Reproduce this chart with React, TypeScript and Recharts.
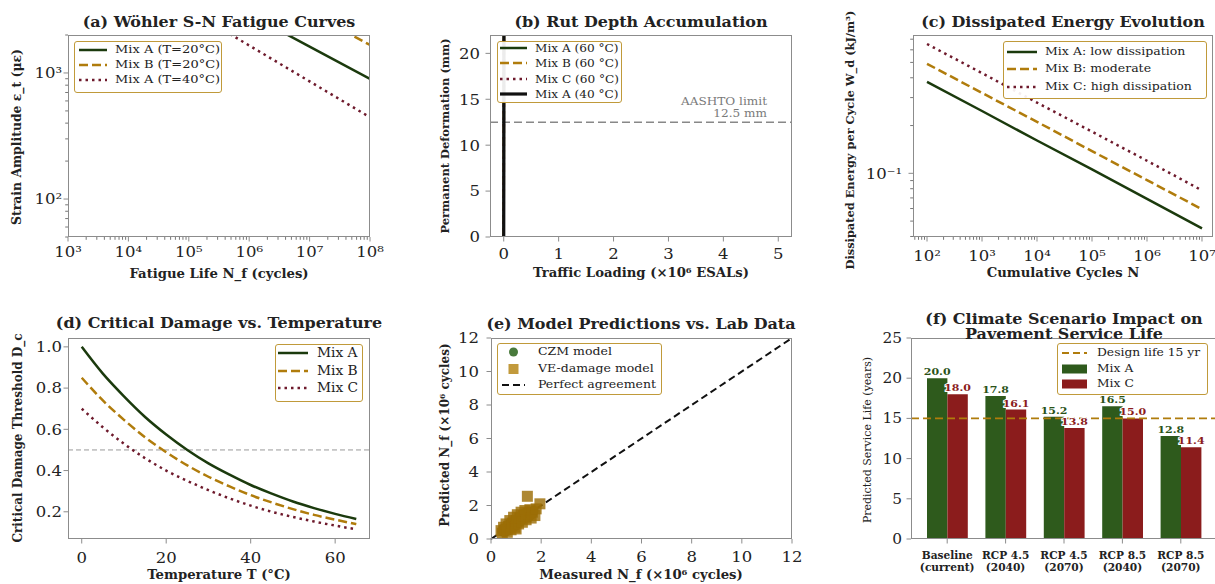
import React from "react";
import {
  LineChart,
  Line,
  XAxis,
  YAxis,
  ReferenceLine,
  ScatterChart,
  Scatter,
  BarChart,
  Bar,
  LabelList,
} from "recharts";

const FONT = "'DejaVu Serif', serif";
const INK = "#222";
const SPINE = "#8c8c8c";
const GREEN = "#1b3a0d";
const GOLD = "#b07c0c";
const MAROON = "#6e1a2c";
const BAR_GREEN = "#2e5a1c";
const BAR_RED = "#8b1c1c";
const FRAME_GOLD = "#c09a3a";
// the reference is a little wider than tall, so horizontal text gets stretched
const SX = 1.1;

// (a) Wöhler S-N curves
const snCycles = [1e3, 1e4, 1e5, 1e6, 1e7, 1e8];
const snMixA20 = [17200, 9520, 5270, 2920, 1617, 896];
const snMixB20 = [32000, 17700, 9820, 5440, 3010, 1667];
const snMixA40 = [11820, 6135, 3184, 1652, 857, 445];

// (b) rut depth (all curves shoot up right at zero)
const rutEsals = [0, 0.001, 0.002, 0.003, 0.004];
const rutMixA60 = [0, 6, 12, 19, 26];
const rutMixB60 = [0, 5, 11, 17, 24];
const rutMixC60 = [0, 7, 14, 21, 29];
const rutMixA40 = [0, 4, 9, 15, 23];
const aashtoLimit = 12.5;

// (c) dissipated energy
const deCycles = [1e2, 1e3, 1e4, 1e5, 1e6, 1e7];
const deMixA = [0.377, 0.247, 0.161, 0.106, 0.069, 0.045];
const deMixB = [0.49, 0.321, 0.211, 0.138, 0.0906, 0.0594];
const deMixC = [0.653, 0.428, 0.279, 0.183, 0.12, 0.078];

// (d) critical damage
const dcTemps = [0, 5, 10, 15, 20, 25, 30, 35, 40, 45, 50, 55, 60, 65];
const dcMixA = [1.0, 0.87, 0.76, 0.66, 0.575, 0.5, 0.435, 0.38, 0.33, 0.288, 0.25, 0.218, 0.19, 0.165];
const dcMixB = [0.85, 0.74, 0.646, 0.561, 0.489, 0.425, 0.37, 0.323, 0.281, 0.245, 0.213, 0.185, 0.162, 0.14];
const dcMixC = [0.7, 0.61, 0.53, 0.46, 0.4, 0.35, 0.305, 0.265, 0.23, 0.2, 0.175, 0.153, 0.133, 0.115];
const dcThreshold = 0.5;

// (e) model vs lab
const czmMeasured = [0.45, 0.5, 0.6, 0.65, 0.7, 0.75, 0.85, 0.9, 0.95, 1.0, 1.05, 1.1, 1.2, 1.25, 1.3, 1.4, 1.45, 1.5, 1.55, 1.65, 1.7, 0.55, 0.8, 1.15, 1.35];
const czmPredicted = [0.45, 0.6, 0.7, 0.5, 0.85, 0.65, 0.8, 1.05, 0.75, 1.15, 0.95, 1.3, 1.1, 1.45, 1.2, 1.35, 1.6, 1.3, 1.55, 1.5, 1.7, 0.4, 0.95, 1.0, 1.55];
const veMeasured = [0.4, 0.45, 0.5, 0.55, 0.6, 0.65, 0.7, 0.75, 0.8, 0.85, 0.9, 0.95, 1.0, 1.0, 1.05, 1.1, 1.15, 1.2, 1.25, 1.3, 1.35, 1.4, 1.45, 1.5, 1.55, 1.6, 1.65, 1.75, 1.8, 1.95];
const vePredicted = [0.5, 0.35, 0.7, 0.55, 0.9, 0.4, 0.75, 1.1, 0.55, 0.95, 1.3, 0.7, 1.1, 0.6, 1.45, 0.9, 1.25, 1.6, 1.0, 1.4, 1.7, 1.15, 2.55, 1.5, 1.75, 1.25, 1.6, 1.4, 1.8, 2.1];

// (f) climate scenarios
const scenarios = ["Baseline\n(current)", "RCP 4.5\n(2040)", "RCP 4.5\n(2070)", "RCP 8.5\n(2040)", "RCP 8.5\n(2070)"];
const lifeMixA = [20.0, 17.8, 15.2, 16.5, 12.8];
const lifeMixC = [18.0, 16.1, 13.8, 15.0, 11.4];
const designLife = 15;

type Box = { left: number; top: number; width: number; height: number };
type Plot = { x0: number; x1: number; y0: number; y1: number };
const Y_W = 40;
const X_H = 30;

const marginOf = (b: Box, p: Plot) => ({
  left: p.x0 - b.left - Y_W,
  right: b.left + b.width - p.x1,
  top: p.y0 - b.top,
  bottom: b.top + b.height - p.y1 - X_H,
});

const SUP: Record<string, string> = {
  "-": "⁻", "0": "⁰", "1": "¹", "2": "²", "3": "³", "4": "⁴", "5": "⁵", "6": "⁶", "7": "⁷", "8": "⁸", "9": "⁹",
};
const isDecade = (v: number) => Math.abs(Math.log10(v) - Math.round(Math.log10(v))) < 1e-6;
const pow10 = (v: number) =>
  "10" + String(Math.round(Math.log10(v))).split("").map((c) => SUP[c]).join("");
const notDecade = (v: number) => !isDecade(v);

function logTicks(lo: number, hi: number) {
  const out: number[] = [];
  for (let e = Math.floor(Math.log10(lo)); e <= Math.ceil(Math.log10(hi)); e++) {
    for (let m = 1; m < 10; m++) {
      const v = +(m * Math.pow(10, e)).toPrecision(6);
      if (v >= lo * 0.999 && v <= hi * 1.001) out.push(v);
    }
  }
  return out;
}

type TickOpt = { fs: number; off: number; fmt: (v: any) => string; minor?: (v: number) => boolean };

function bottomTick(o: TickOpt) {
  return (p: any) => {
    const v = p.payload.value;
    const mn = o.minor ? o.minor(v) : false;
    const len = mn ? 2.8 : 4.5;
    return (
      <g>
        <line x1={p.x} x2={p.x} y1={p.y} y2={p.y + len} stroke={mn ? "#777" : SPINE} strokeWidth={1} />
        {!mn && (
          <text
            transform={`translate(${p.x},${p.y + o.off}) scale(${SX},1)`}
            textAnchor="middle"
            fontSize={o.fs}
            fill={INK}
          >
            {o.fmt(v)}
          </text>
        )}
      </g>
    );
  };
}

function leftTick(o: TickOpt) {
  return (p: any) => {
    const v = p.payload.value;
    const mn = o.minor ? o.minor(v) : false;
    const len = mn ? 2.8 : 4.5;
    return (
      <g>
        <line x1={p.x - len} x2={p.x} y1={p.y} y2={p.y} stroke={mn ? "#777" : SPINE} strokeWidth={1} />
        {!mn && (
          <text
            transform={`translate(${p.x - o.off},${p.y + o.fs * 0.36}) scale(${SX},1)`}
            textAnchor="end"
            fontSize={o.fs}
            fill={INK}
          >
            {o.fmt(v)}
          </text>
        )}
      </g>
    );
  };
}

const catTick = (p: any) => {
  const [l1, l2] = String(p.payload.value).split("\n");
  return (
    <g>
      <line x1={p.x} x2={p.x} y1={p.y} y2={p.y + 4.5} stroke={SPINE} />
      <text
        transform={`translate(${p.x},${p.y}) scale(1.04,1)`}
        textAnchor="middle"
        fontSize={10.2}
        fontWeight="bold"
        fill={INK}
      >
        <tspan x={0} y={20}>{l1}</tspan>
        <tspan x={0} y={32}>{l2}</tspan>
      </text>
    </g>
  );
};

const axisBase = {
  tickLine: false,
  axisLine: false,
  tickSize: 0,
  tickMargin: 0,
  interval: 0 as const,
  allowDataOverflow: true,
};

function Txt(props: {
  x: number; y: number; size: number; bold?: boolean; rotate?: boolean; lh?: number; color?: string;
  children: React.ReactNode;
}) {
  return (
    <div
      style={{
        position: "absolute",
        left: props.x,
        top: props.y,
        transform: `translate(-50%, -50%)${props.rotate ? " rotate(-90deg)" : ` scaleX(${SX})`}`,
        fontSize: props.size,
        fontWeight: props.bold ? "bold" : "normal",
        whiteSpace: "nowrap",
        lineHeight: props.lh ? `${props.lh}px` : 1.25,
        textAlign: "center",
        color: props.color ?? INK,
      }}
    >
      {props.children}
    </div>
  );
}

function Frame({ p }: { p: Plot }) {
  return (
    <div
      style={{
        position: "absolute",
        left: p.x0,
        top: p.y0,
        width: p.x1 - p.x0,
        height: p.y1 - p.y0,
        border: `1px solid ${SPINE}`,
        boxSizing: "border-box",
      }}
    />
  );
}

type LegItem = { label: string; color: string; kind?: "line" | "circle" | "square" | "patch"; dash?: string; width?: number };

function LegendBox(props: {
  x0: number; y0: number; x1: number; y1: number;
  rows: number[]; sw: [number, number]; tx: number; fs: number; items: LegItem[];
}) {
  const { x0, y0, x1, y1, rows, sw, tx, fs, items } = props;
  return (
    <div
      style={{
        position: "absolute",
        left: x0,
        top: y0,
        width: x1 - x0,
        height: y1 - y0,
        border: `1.5px solid ${FRAME_GOLD}`,
        borderRadius: 3,
        background: "rgba(255,255,255,0.92)",
        boxSizing: "border-box",
      }}
    >
      <svg width={x1 - x0} height={y1 - y0} style={{ position: "absolute", left: -1.5, top: -1.5 }}>
        {items.map((it, i) => {
          const cy = rows[i] - y0;
          const a = sw[0] - x0;
          const b = sw[1] - x0;
          const mid = (a + b) / 2;
          if (it.kind === "circle")
            return <circle key={i} cx={mid} cy={cy} r={4.5} fill="#356b27" fillOpacity={0.9} />;
          if (it.kind === "square")
            return <rect key={i} x={mid - 5} y={cy - 5} width={10} height={10} fill="#c29a3c" />;
          if (it.kind === "patch")
            return <rect key={i} x={a} y={cy - 4.5} width={b - a} height={9} fill={it.color} />;
          return (
            <line key={i} x1={a} x2={b} y1={cy} y2={cy} stroke={it.color} strokeWidth={it.width ?? 2.5} strokeDasharray={it.dash} />
          );
        })}
      </svg>
      {items.map((it, i) => (
        <div
          key={i}
          style={{
            position: "absolute",
            left: tx - x0 - 1.5,
            top: rows[i] - y0 - 1.5,
            transform: `translateY(-50%) scaleX(${SX})`,
            transformOrigin: "0 50%",
            fontSize: fs,
            whiteSpace: "nowrap",
            lineHeight: 1,
          }}
        >
          {it.label}
        </div>
      ))}
    </div>
  );
}

const DASH = "9 4";
const DOT = "2.5 4";

const BOX_A: Box = { left: 0, top: 0, width: 405, height: 290 };
const PLOT_A: Plot = { x0: 68, x1: 370, y0: 35, y1: 237 };
const BOX_B: Box = { left: 405, top: 0, width: 405, height: 290 };
const PLOT_B: Plot = { x0: 490, x1: 792, y0: 35, y1: 237 };
const BOX_C: Box = { left: 810, top: 0, width: 405, height: 290 };
const PLOT_C: Plot = { x0: 913, x1: 1213, y0: 35, y1: 237 };
const BOX_D: Box = { left: 0, top: 290, width: 405, height: 294 };
const PLOT_D: Plot = { x0: 68, x1: 370, y0: 338, y1: 539 };
const BOX_E: Box = { left: 405, top: 290, width: 405, height: 294 };
const PLOT_E: Plot = { x0: 491, x1: 792, y0: 338, y1: 539 };
const BOX_F: Box = { left: 810, top: 290, width: 410, height: 294 };
const PLOT_F: Plot = { x0: 911, x1: 1217, y0: 338, y1: 539 };

const at = (b: Box): React.CSSProperties => ({ position: "absolute", left: b.left, top: b.top });

const TFS = 15;

export default function App() {
  const snTable = snCycles.map((n, i) => ({ n, a20: snMixA20[i], b20: snMixB20[i], a40: snMixA40[i] }));
  const rutSeries = (ys: number[]) => rutEsals.map((x, i) => ({ x, y: ys[i] }));
  const deTable = deCycles.map((n, i) => ({ n, a: deMixA[i], b: deMixB[i], c: deMixC[i] }));
  const dcTable = dcTemps.map((t, i) => ({ t, a: dcMixA[i], b: dcMixB[i], c: dcMixC[i] }));
  const czm = czmMeasured.map((x, i) => ({ x, y: czmPredicted[i] }));
  const ve = veMeasured.map((x, i) => ({ x, y: vePredicted[i] }));
  const lifeTable = scenarios.map((s, i) => ({ s, a: lifeMixA[i], c: lifeMixC[i] }));

  const barLabel = (color: string) => (p: any) => (
    <text
      transform={`translate(${Number(p.x) + Number(p.width) / 2},${Number(p.y) - 3}) scale(${SX},1)`}
      textAnchor="middle"
      fontSize={10}
      fontWeight="bold"
      fill={color}
      stroke="#fff"
      strokeWidth={2}
      paintOrder="stroke"
    >
      {Number(p.value).toFixed(1)}
    </text>
  );

  return (
    <div
      style={{
        position: "absolute",
        left: 0,
        top: 0,
        width: 1215,
        height: 584,
        overflow: "hidden",
        background: "#fff",
        fontFamily: FONT,
        color: INK,
      }}
    >
      {/* (a) */}
      <div style={at(BOX_A)}>
        <LineChart width={BOX_A.width} height={BOX_A.height} data={snTable} margin={marginOf(BOX_A, PLOT_A)}>
          <XAxis
            {...axisBase}
            dataKey="n"
            type="number"
            scale="log"
            domain={[1e3, 1e8]}
            ticks={logTicks(1e3, 1e8)}
            height={X_H}
            tick={bottomTick({ fs: TFS, off: 19.5, fmt: pow10, minor: notDecade })}
          />
          <YAxis
            {...axisBase}
            type="number"
            scale="log"
            domain={[50, 2000]}
            ticks={logTicks(50, 2000)}
            width={Y_W}
            tick={leftTick({ fs: TFS, off: 6, fmt: pow10, minor: notDecade })}
          />
          <Line dataKey="a20" stroke={GREEN} strokeWidth={2.5} dot={false} isAnimationActive={false} />
          <Line dataKey="b20" stroke={GOLD} strokeWidth={2.5} strokeDasharray={DASH} dot={false} isAnimationActive={false} />
          <Line dataKey="a40" stroke={MAROON} strokeWidth={2.5} strokeDasharray={DOT} dot={false} isAnimationActive={false} />
        </LineChart>
      </div>

      {/* (b) */}
      <div style={at(BOX_B)}>
        <LineChart width={BOX_B.width} height={BOX_B.height} margin={marginOf(BOX_B, PLOT_B)}>
          <XAxis
            {...axisBase}
            dataKey="x"
            type="number"
            domain={[-0.25, 5.25]}
            ticks={[0, 1, 2, 3, 4, 5]}
            height={X_H}
            tick={bottomTick({ fs: TFS, off: 21.5, fmt: (v) => String(v) })}
          />
          <YAxis
            {...axisBase}
            type="number"
            domain={[0, 22]}
            ticks={[0, 5, 10, 15, 20]}
            width={Y_W}
            tick={leftTick({ fs: TFS, off: 10, fmt: (v) => String(v) })}
          />
          <ReferenceLine
            y={aashtoLimit}
            stroke="#888"
            strokeWidth={1.4}
            strokeDasharray="8 4"
            label={(p: any) => {
              const vb = p.viewBox || {};
              const xr = Number(vb.x) + Number(vb.width) - 25;
              const yl = Number(vb.y);
              return (
                <text transform={`translate(${xr},${yl}) scale(${SX},1)`} textAnchor="end" fontSize={11} fill="#7a7a7a">
                  <tspan x={0} y={-17}>AASHTO limit</tspan>
                  <tspan x={0} y={-5}>12.5 mm</tspan>
                </text>
              );
            }}
          />
          <Line data={rutSeries(rutMixA60)} dataKey="y" stroke={GREEN} strokeWidth={2.5} dot={false} isAnimationActive={false} />
          <Line data={rutSeries(rutMixB60)} dataKey="y" stroke={GOLD} strokeWidth={2.5} strokeDasharray={DASH} dot={false} isAnimationActive={false} />
          <Line data={rutSeries(rutMixC60)} dataKey="y" stroke={MAROON} strokeWidth={2.5} strokeDasharray={DOT} dot={false} isAnimationActive={false} />
          <Line data={rutSeries(rutMixA40)} dataKey="y" stroke="#111" strokeWidth={3.2} dot={false} isAnimationActive={false} />
        </LineChart>
      </div>

      {/* (c) */}
      <div style={at(BOX_C)}>
        <LineChart width={BOX_C.width} height={BOX_C.height} data={deTable} margin={marginOf(BOX_C, PLOT_C)}>
          <XAxis
            {...axisBase}
            dataKey="n"
            type="number"
            scale="log"
            domain={[55.6, 1.585e7]}
            ticks={logTicks(55.6, 1.585e7)}
            height={X_H}
            tick={bottomTick({ fs: TFS, off: 24, fmt: pow10, minor: notDecade })}
          />
          <YAxis
            {...axisBase}
            type="number"
            scale="log"
            domain={[0.0397, 0.744]}
            ticks={logTicks(0.0397, 0.744)}
            width={Y_W}
            tick={leftTick({ fs: TFS, off: 11, fmt: pow10, minor: notDecade })}
          />
          <Line dataKey="a" stroke={GREEN} strokeWidth={2.5} dot={false} isAnimationActive={false} />
          <Line dataKey="b" stroke={GOLD} strokeWidth={2.5} strokeDasharray={DASH} dot={false} isAnimationActive={false} />
          <Line dataKey="c" stroke={MAROON} strokeWidth={2.5} strokeDasharray={DOT} dot={false} isAnimationActive={false} />
        </LineChart>
      </div>

      {/* (d) */}
      <div style={at(BOX_D)}>
        <LineChart width={BOX_D.width} height={BOX_D.height} data={dcTable} margin={marginOf(BOX_D, PLOT_D)}>
          <XAxis
            {...axisBase}
            dataKey="t"
            type="number"
            domain={[-3.25, 68.25]}
            ticks={[0, 20, 40, 60]}
            height={X_H}
            tick={bottomTick({ fs: TFS, off: 23.5, fmt: (v) => String(v) })}
          />
          <YAxis
            {...axisBase}
            type="number"
            domain={[0.068, 1.043]}
            ticks={[0.2, 0.4, 0.6, 0.8, 1.0]}
            width={Y_W}
            tick={leftTick({ fs: TFS, off: 6, fmt: (v) => Number(v).toFixed(1) })}
          />
          <ReferenceLine y={dcThreshold} stroke="#999" strokeWidth={1} strokeDasharray="5 3" />
          <Line type="monotone" dataKey="a" stroke={GREEN} strokeWidth={2.5} dot={false} isAnimationActive={false} />
          <Line type="monotone" dataKey="b" stroke={GOLD} strokeWidth={2.5} strokeDasharray={DASH} dot={false} isAnimationActive={false} />
          <Line type="monotone" dataKey="c" stroke={MAROON} strokeWidth={2.5} strokeDasharray={DOT} dot={false} isAnimationActive={false} />
        </LineChart>
      </div>

      {/* (e) */}
      <div style={at(BOX_E)}>
        <ScatterChart width={BOX_E.width} height={BOX_E.height} margin={marginOf(BOX_E, PLOT_E)}>
          <XAxis
            {...axisBase}
            dataKey="x"
            type="number"
            domain={[0, 12]}
            ticks={[0, 2, 4, 6, 8, 10, 12]}
            height={X_H}
            tick={bottomTick({ fs: TFS, off: 22.5, fmt: (v) => String(v) })}
          />
          <YAxis
            {...axisBase}
            dataKey="y"
            type="number"
            domain={[0, 12]}
            ticks={[0, 2, 4, 6, 8, 10, 12]}
            width={Y_W}
            tick={leftTick({ fs: TFS, off: 12, fmt: (v) => String(v) })}
          />
          <Scatter
            data={czm}
            isAnimationActive={false}
            shape={(p: any) => <circle cx={p.cx} cy={p.cy} r={5} fill="#2f6222" fillOpacity={0.8} />}
          />
          <Scatter
            data={ve}
            isAnimationActive={false}
            shape={(p: any) => (
              <rect x={p.cx - 5.5} y={p.cy - 5.5} width={11} height={11} fill="#9c6e06" fillOpacity={0.82} />
            )}
          />
          <ReferenceLine
            segment={[{ x: 0, y: 0 }, { x: 12, y: 12 }]}
            stroke="#111"
            strokeWidth={2}
            strokeDasharray="7 4"
          />
        </ScatterChart>
      </div>

      {/* (f) */}
      <div style={at(BOX_F)}>
        <BarChart
          width={BOX_F.width}
          height={BOX_F.height}
          data={lifeTable}
          margin={marginOf(BOX_F, PLOT_F)}
          barGap={0}
          barSize={20.4}
        >
          <XAxis
            {...axisBase}
            allowDataOverflow={false}
            dataKey="s"
            padding={{ left: 7, right: 7 }}
            height={X_H}
            tick={catTick}
          />
          <YAxis
            {...axisBase}
            type="number"
            domain={[0, 25]}
            ticks={[0, 5, 10, 15, 20, 25]}
            width={Y_W}
            tick={leftTick({ fs: 14, off: 9, fmt: (v) => String(v) })}
          />
          <Bar dataKey="a" fill={BAR_GREEN} isAnimationActive={false}>
            <LabelList dataKey="a" content={barLabel("#2a5218")} />
          </Bar>
          <Bar dataKey="c" fill={BAR_RED} isAnimationActive={false}>
            <LabelList dataKey="c" content={barLabel("#8b1c1c")} />
          </Bar>
          <ReferenceLine y={designLife} stroke={GOLD} strokeWidth={1.8} strokeDasharray="8 4" />
        </BarChart>
      </div>

      {[PLOT_A, PLOT_B, PLOT_C, PLOT_D, PLOT_E, PLOT_F].map((p, i) => (
        <Frame key={i} p={p} />
      ))}

      {/* titles */}
      <Txt x={219} y={22} size={14.5} bold>(a) Wöhler S-N Fatigue Curves</Txt>
      <Txt x={641} y={22} size={14.5} bold>(b) Rut Depth Accumulation</Txt>
      <Txt x={1063} y={22} size={14.5} bold>(c) Dissipated Energy Evolution</Txt>
      <Txt x={219} y={323} size={14.5} bold>(d) Critical Damage vs. Temperature</Txt>
      <Txt x={641} y={324} size={14.5} bold>(e) Model Predictions vs. Lab Data</Txt>
      <Txt x={1064} y={326} size={14.5} bold lh={15}>
        (f) Climate Scenario Impact on
        <br />
        Pavement Service Life
      </Txt>

      {/* axis labels */}
      <Txt x={219} y={274} size={12} bold>Fatigue Life N_f (cycles)</Txt>
      <Txt x={17} y={137} size={12.4} bold rotate>Strain Amplitude ε_t (με)</Txt>
      <Txt x={641} y={273} size={12} bold>Traffic Loading (×10⁶ ESALs)</Txt>
      <Txt x={445} y={136} size={11.5} bold rotate>Permanent Deformation (mm)</Txt>
      <Txt x={1063} y={273} size={12} bold>Cumulative Cycles N</Txt>
      <Txt x={850} y={140} size={11.4} bold rotate>Dissipated Energy per Cycle W_d (kJ/m³)</Txt>
      <Txt x={219} y={575} size={12} bold>Temperature T (°C)</Txt>
      <Txt x={18} y={438} size={12} bold rotate>Critical Damage Threshold D_c</Txt>
      <Txt x={641} y={575} size={12} bold>Measured N_f (×10⁶ cycles)</Txt>
      <Txt x={445} y={435} size={12} bold rotate>Predicted N_f (×10⁶ cycles)</Txt>
      <Txt x={868} y={440} size={11} rotate>Predicted Service Life (years)</Txt>

      {/* legends */}
      <LegendBox
        x0={74} y0={41} x1={222} y1={93} rows={[50, 65, 80]} sw={[79, 107]} tx={115} fs={11.8}
        items={[
          { label: "Mix A (T=20°C)", color: GREEN },
          { label: "Mix B (T=20°C)", color: GOLD, dash: DASH },
          { label: "Mix A (T=40°C)", color: MAROON, dash: DOT },
        ]}
      />
      <LegendBox
        x0={497} y0={41} x1={622} y1={103} rows={[48, 63, 79, 94]} sw={[500, 527]} tx={535} fs={11}
        items={[
          { label: "Mix A (60 °C)", color: GREEN },
          { label: "Mix B (60 °C)", color: GOLD, dash: DASH },
          { label: "Mix C (60 °C)", color: MAROON, dash: DOT },
          { label: "Mix A (40 °C)", color: "#111", width: 3.2 },
        ]}
      />
      <LegendBox
        x0={1003} y0={41} x1={1207} y1={99} rows={[52, 69, 87]} sw={[1007, 1037]} tx={1045} fs={11.4}
        items={[
          { label: "Mix A: low dissipation", color: GREEN },
          { label: "Mix B: moderate", color: GOLD, dash: DASH },
          { label: "Mix C: high dissipation", color: MAROON, dash: DOT },
        ]}
      />
      <LegendBox
        x0={275} y0={344} x1={363} y1={402} rows={[353, 371, 388]} sw={[278, 308]} tx={317} fs={12.5}
        items={[
          { label: "Mix A", color: GREEN },
          { label: "Mix B", color: GOLD, dash: DASH },
          { label: "Mix C", color: MAROON, dash: DOT },
        ]}
      />
      <LegendBox
        x0={497} y0={343} x1={662} y1={395} rows={[352, 369, 385]} sw={[502, 525]} tx={538} fs={11.4}
        items={[
          { label: "CZM model", color: "#356b27", kind: "circle" },
          { label: "VE-damage model", color: "#c29a3c", kind: "square" },
          { label: "Perfect agreement", color: "#111", dash: "7 4", width: 2 },
        ]}
      />
      <LegendBox
        x0={1057} y0={343} x1={1208} y1={395} rows={[353, 369, 384]} sw={[1062, 1087]} tx={1097} fs={11.2}
        items={[
          { label: "Design life 15 yr", color: GOLD, dash: "7 4", width: 1.8 },
          { label: "Mix A", color: BAR_GREEN, kind: "patch" },
          { label: "Mix C", color: BAR_RED, kind: "patch" },
        ]}
      />
    </div>
  );
}
